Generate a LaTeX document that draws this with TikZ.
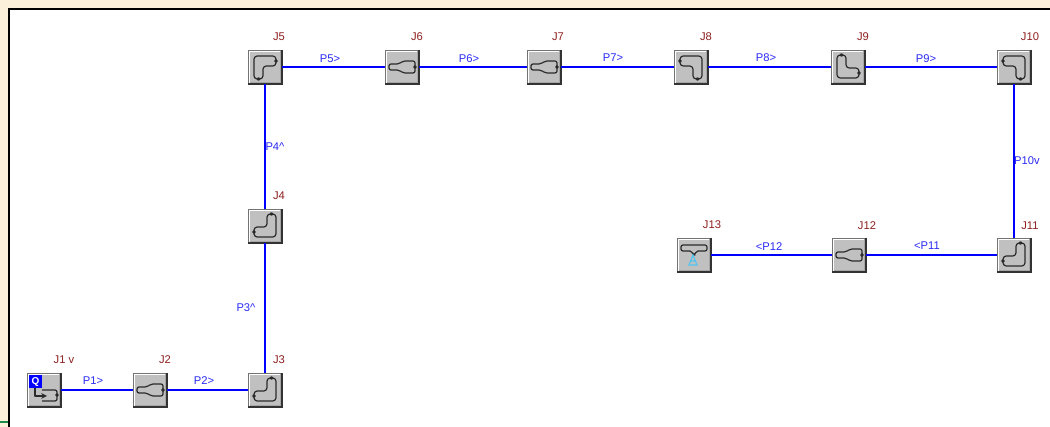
\documentclass[tikz,border=0pt]{standalone}
\usepackage{fontspec}
\setmainfont{Liberation Sans}
\definecolor{cream}{HTML}{FBF0DA}
\definecolor{boxgray}{HTML}{C0C0C0}
\definecolor{jred}{HTML}{8E2020}
\definecolor{pblue}{HTML}{0000FF}
\definecolor{lblue}{HTML}{2A2AF5}
\definecolor{shapeink}{HTML}{2A2A2A}
\definecolor{leadgreen}{HTML}{1E8A4A}
\tikzset{
  x=0.75pt,y=-0.75pt,>=stealth,
  junction/.style={draw=none,fill=boxgray,minimum size=25.5pt,inner sep=0pt,outer sep=0pt},
  pipe/.style={draw=pblue,line width=2.1pt},
  jlabel/.style={text=jred,font=\fontsize{8.4}{10}\selectfont,inner sep=0pt},
  plabel/.style={text=lblue,font=\fontsize{8.4}{10}\selectfont,inner sep=0pt},
  ink/.style={draw=shapeink,line width=0.9pt,line join=round,fill=none},
  elbow/.pic={\draw[ink,rounded corners=2.4pt] (2,-12) -- (11,-12) -- (11,11) -- (-11,11) -- (-11,1) -- (2,1) -- cycle;
    \draw[ink,fill=boxgray] (-11,6) circle (1.2); \draw[ink,fill=boxgray] (6.5,-12) circle (1.2);},
  reducer/.pic={\draw[ink,rounded corners=1.5pt] (-13,-3) -- (-3,-3) -- (1,-6) -- (13,-6) -- (13,6) -- (1,6) -- (-3,3) -- (-13,3) -- cycle;
    \draw[ink,fill=boxgray] (13,0) circle (1.2);},
  bevel/.pic={\draw[white,line width=0.8pt] (-15.8,15.8) -- (-15.8,-15.8) -- (15.8,-15.8);
    \draw[black!55,line width=0.6pt] (-17,-17) rectangle (17,17);
    \draw[black!80,line width=1pt] (17,-17) -- (17,17) -- (-17,17);
    \draw[black!35,line width=0.5pt] (15.5,-15.5) -- (15.5,15.5) -- (-15.5,15.5);}
}
\begin{document}
\begin{tikzpicture}
\useasboundingbox (0,0) rectangle (1050,427);
\fill[cream] (0,0) rectangle (1050,427);
\fill[white] (9,9) rectangle (1050,427);
\draw[black,line width=1.5pt] (9,427) -- (9,9) -- (1050,9);
\draw[leadgreen,line width=0.9pt] (0,422) -- (8,422);
% junctions
\foreach \n/\x/\y in {j1/44/390,j2/150/390,j3/265/390,j4/265/226,j5/265/67,j6/402/67,j7/544/67,j8/691/67,j9/848/67,j10/1014/67,j11/1014/255,j12/849/255,j13/694/255}{
  \node[junction] (\n) at (\x,\y) {};
  \pic at (\x,\y) {bevel};
}
% pipes
\draw[pipe] (j1) -- (j2);
\draw[pipe] (j2) -- (j3);
\draw[pipe] (j3) -- (j4);
\draw[pipe] (j4) -- (j5);
\draw[pipe] (j5) -- (j6);
\draw[pipe] (j6) -- (j7);
\draw[pipe] (j7) -- (j8);
\draw[pipe] (j8) -- (j9);
\draw[pipe] (j9) -- (j10);
\draw[pipe] (j10) -- (j11);
\draw[pipe] (j11) -- (j12);
\draw[pipe] (j12) -- (j13);
% icons
\pic at (j2) {reducer};
\pic at (j6) {reducer};
\pic at (j7) {reducer};
\pic at (j12) {reducer};
\pic at (j3) {elbow};
\pic at (j4) {elbow};
\pic at (j11) {elbow};
\pic[xscale=-1,yscale=-1] at (j5) {elbow};
\pic[yscale=-1] at (j8) {elbow};
\pic[yscale=-1] at (j10) {elbow};
\pic[xscale=-1] at (j9) {elbow};
% J1 icon
\begin{scope}[shift={(j1)}]
  \draw[ink,rounded corners=1.5pt] (-2,0) -- (13,0) -- (13,11) -- (-2,11);
  \draw[ink,fill=boxgray] (13,5) circle (1.2);
  \draw[ink,->] (-9,-2) -- (-9,6) -- (3,6);
  \fill[pblue] (-15,-15) rectangle (-2,-2);
  \node[text=white,font=\bfseries\fontsize{7.5}{8}\selectfont,inner sep=0pt] (q) at (-8.5,-8.5) {Q};
\end{scope}
% J13 icon
\begin{scope}[shift={(j13)}]
  \draw[ink,rounded corners=1.5pt] (-13,-10) -- (13,-10) -- (13,-4) -- (2,-4) -- (1,0) -- (-1,0) -- (-2,-4) -- (-13,-4) -- cycle;
  \draw[cyan!70!white,line width=0.8pt] (-1,0) -- (-5,10) -- (3,10) -- cycle (-3,6) -- (1,6);
\end{scope}
% labels
\foreach \t/\x/\y in {J1 v/64/360,J2/165/360,J3/279/360,J4/279/196,J5/279/37,J6/417/37,J7/558/37,J8/706/37,J9/863/37,J10/1030/37,J11/1030/226,J12/867/226,J13/712/225}{
  \node[jlabel] at (\x,\y) {\t};
}
\foreach \t/\x/\y in {P1>/93/381,P2>/204/381,P3\textasciicircum/246/308,P4\textasciicircum/275/147,P5>/330/59,P6>/469/59,P7>/613/58,P8>/766/58,P9>/926/59,P10v/1027/161,<P11/927/246,<P12/769/247}{
  \node[plabel] at (\x,\y) {\t};
}
\end{tikzpicture}
\end{document}
